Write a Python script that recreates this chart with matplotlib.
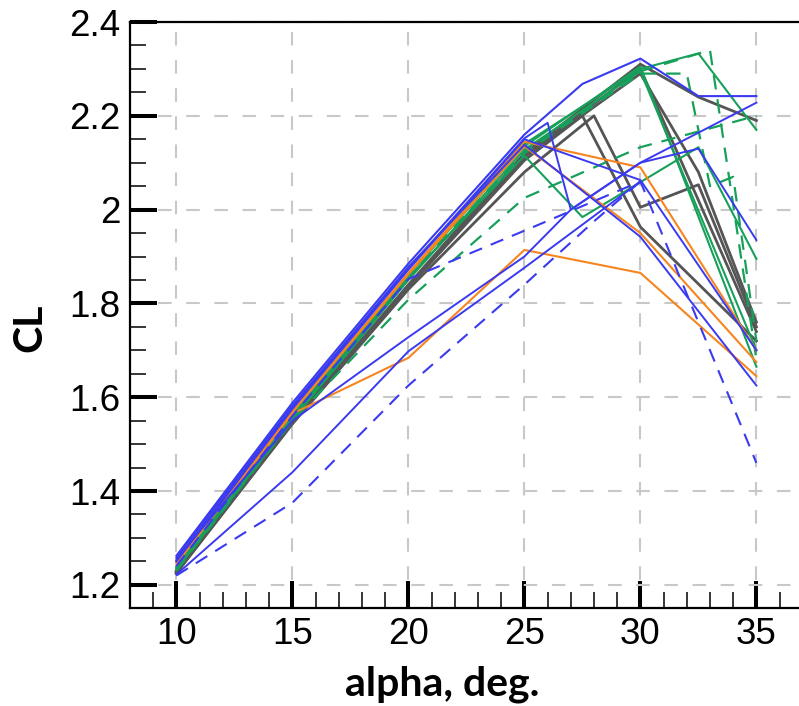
import matplotlib
matplotlib.use("Agg")
import matplotlib.pyplot as plt
from matplotlib.ticker import MultipleLocator, FuncFormatter

# ---------------- data (alpha in deg, CL) ----------------
# blue solid
a_b1 = [10, 15, 20, 25, 27.5, 30, 32.5, 35]
cl_b1 = [1.262, 1.588, 1.885, 2.160, 2.268, 2.322, 2.242, 2.242]
a_b2 = [10, 15, 20, 25, 27, 30, 35]
cl_b2 = [1.255, 1.550, 1.728, 1.900, 2.000, 2.100, 2.228]
a_b3 = [10, 15, 20, 25, 30]
cl_b3 = [1.222, 1.440, 1.698, 1.876, 2.060]
a_b4 = [10, 15, 20, 25, 30, 35]
cl_b4 = [1.250, 1.575, 1.872, 2.150, 2.063, 1.700]
a_b5 = [10, 15, 20, 25, 30, 35]
cl_b5 = [1.258, 1.582, 1.878, 2.138, 1.942, 1.625]
a_b6 = [10, 15, 20, 25, 26, 27, 30, 32.5, 35]
cl_b6 = [1.252, 1.578, 1.875, 2.152, 2.185, 2.000, 2.100, 2.130, 1.935]
# blue dashed
a_bd1 = [10, 15, 20, 25, 30, 35]
cl_bd1 = [1.240, 1.560, 1.852, 1.955, 2.060, 1.460]
a_bd2 = [10, 15, 20, 25, 28, 30]
cl_bd2 = [1.220, 1.375, 1.625, 1.840, 1.975, 2.060]
# orange solid
a_o1 = [10, 15, 20, 25, 30, 35]
cl_o1 = [1.245, 1.565, 1.684, 1.914, 1.865, 1.645]
a_o2 = [10, 15, 20, 25, 30, 35]
cl_o2 = [1.250, 1.570, 1.865, 2.145, 2.090, 1.700]
a_o3 = [10, 15, 20, 25, 30, 35]
cl_o3 = [1.248, 1.568, 1.862, 2.135, 1.950, 1.675]
# green solid
a_g1 = [10, 15, 20, 25, 30, 32.5, 35]
cl_g1 = [1.238, 1.562, 1.862, 2.140, 2.300, 2.333, 2.170]
a_g2 = [10, 15, 20, 25, 30, 35]
cl_g2 = [1.240, 1.560, 1.860, 2.135, 2.305, 1.665]
a_g3 = [10, 15, 20, 25, 27.5, 32.5, 35]
cl_g3 = [1.235, 1.556, 1.855, 2.115, 1.984, 2.133, 1.895]
a_g4 = [10, 15, 20, 25, 30, 35]
cl_g4 = [1.232, 1.552, 1.850, 2.128, 2.295, 1.700]
# green dashed
a_gd1 = [10, 15, 20, 25, 30, 35]
cl_gd1 = [1.230, 1.550, 1.808, 2.025, 2.133, 2.200]
a_gd2 = [10, 15, 20, 25, 30, 33, 35]
cl_gd2 = [1.236, 1.558, 1.858, 2.125, 2.295, 2.340, 1.680]
a_gd3 = [10, 15, 20, 25, 30, 32, 33, 34, 35]
cl_gd3 = [1.234, 1.555, 1.855, 2.120, 2.290, 2.290, 2.050, 2.070, 1.720]
# dark grey solid
a_k1 = [10, 15, 20, 25, 30, 32.5, 35]
cl_k1 = [1.228, 1.548, 1.840, 2.120, 2.310, 2.240, 2.190]
a_k2 = [10, 15, 20, 25, 30, 32.5, 35]
cl_k2 = [1.225, 1.545, 1.835, 2.112, 2.290, 2.080, 1.760]
a_k3 = [10, 15, 20, 25, 30, 35]
cl_k3 = [1.230, 1.550, 1.838, 2.115, 2.300, 1.740]
a_k4 = [10, 15, 20, 25, 28, 30, 32.5, 35]
cl_k4 = [1.225, 1.543, 1.830, 2.080, 2.200, 2.005, 2.053, 1.750]
a_k5 = [10, 15, 20, 25, 27.5, 30, 35]
cl_k5 = [1.228, 1.546, 1.835, 2.105, 2.200, 1.963, 1.720]

x_ticks = [10, 15, 20, 25, 30, 35]
y_ticks = [1.2, 1.4, 1.6, 1.8, 2.0, 2.2, 2.4]
x_label = "alpha, deg."
y_label = "CL"

# ---------------- styles ----------------
BLUE = "#3a3af0"
ORANGE = "#f7851f"
GREEN = "#17a05a"
GREY = "#555555"

series = [
    (a_k1, cl_k1, GREY, "-", 2.0),
    (a_k2, cl_k2, GREY, "-", 2.0),
    (a_k3, cl_k3, GREY, "-", 2.0),
    (a_k4, cl_k4, GREY, "-", 2.0),
    (a_k5, cl_k5, GREY, "-", 2.0),
    (a_g1, cl_g1, GREEN, "-", 1.5),
    (a_g2, cl_g2, GREEN, "-", 1.5),
    (a_g3, cl_g3, GREEN, "-", 1.5),
    (a_g4, cl_g4, GREEN, "-", 1.5),
    (a_gd1, cl_gd1, GREEN, "--", 1.6),
    (a_gd2, cl_gd2, GREEN, "--", 1.6),
    (a_gd3, cl_gd3, GREEN, "--", 1.6),
    (a_o1, cl_o1, ORANGE, "-", 1.5),
    (a_o2, cl_o2, ORANGE, "-", 1.5),
    (a_o3, cl_o3, ORANGE, "-", 1.5),
    (a_b3, cl_b3, BLUE, "-", 1.4),
    (a_b4, cl_b4, BLUE, "-", 1.4),
    (a_b5, cl_b5, BLUE, "-", 1.4),
    (a_b6, cl_b6, BLUE, "-", 1.4),
    (a_b2, cl_b2, BLUE, "-", 1.4),
    (a_b1, cl_b1, BLUE, "-", 1.5),
    (a_bd1, cl_bd1, BLUE, "--", 1.5),
    (a_bd2, cl_bd2, BLUE, "--", 1.5),
]

W, H = 799, 706
fig = plt.figure(figsize=(W / 100, H / 100), dpi=100)
px_per_x = 23.2
ax_left, ax_top, ax_bottom = 130, 22, 608.3
ax = fig.add_axes([ax_left / W, 1 - ax_bottom / H,
                   29 * px_per_x / W, (ax_bottom - ax_top) / H])

for a, cl, c, ls, lw in series:
    if ls == "--":
        ax.plot(a, cl, color=c, lw=lw, linestyle=(0, (6.5, 4.5)), solid_capstyle="butt")
    else:
        ax.plot(a, cl, color=c, lw=lw, linestyle="-")

ax.set_xlim(8, 37)
ax.set_ylim(1.15, 2.4)

ax.set_xticks(x_ticks)
ax.set_yticks(y_ticks)
ax.xaxis.set_minor_locator(MultipleLocator(1))
ax.yaxis.set_minor_locator(MultipleLocator(0.05))
ax.yaxis.set_major_formatter(FuncFormatter(lambda v, p: "%g" % round(v, 2)))

ax.grid(True, which="major", color="#c8c8c8", lw=1.5, linestyle=(0, (6.5, 7)))
ax.set_axisbelow(True)

ax.tick_params(which="major", direction="in", length=19.5, width=2.9,
               labelsize=26.5, top=False, right=False, pad=7)
ax.tick_params(which="minor", direction="in", length=11.5, width=1.1,
               top=False, right=False)
ax.tick_params(axis="x", which="major", pad=6)
for lab in ax.get_xticklabels() + ax.get_yticklabels():
    lab.set_fontfamily("Liberation Sans")

for s in ["left", "bottom", "top", "right"]:
    ax.spines[s].set_linewidth(1.6)
    ax.spines[s].set_color("black")

fig.text(442 / W, 1 - 684 / H, x_label, ha="center", va="center",
         fontfamily="Lato", fontweight="bold", fontsize=29.5)
fig.text(30 / W, 1 - 328 / H, y_label, ha="center", va="center", rotation=90,
         fontfamily="Lato", fontweight="bold", fontsize=29.5)

fig.savefig("out.png", dpi=100)
